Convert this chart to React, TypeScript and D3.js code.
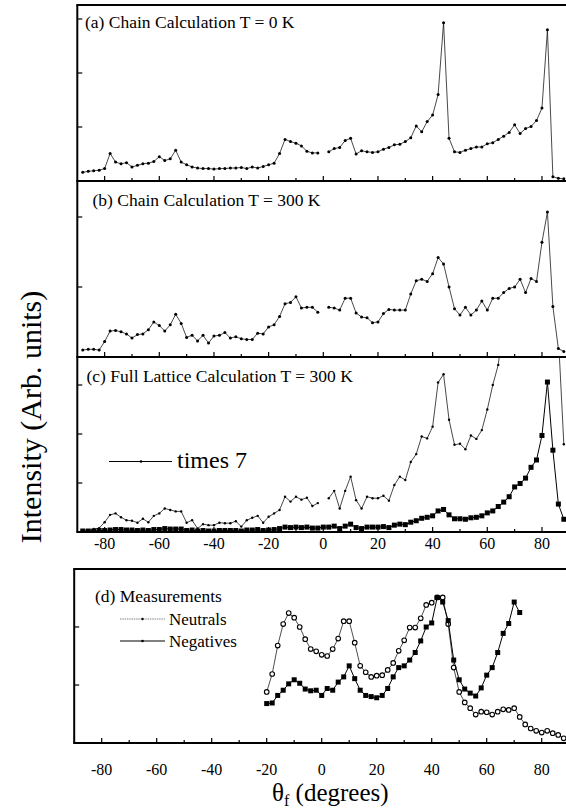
import React from "react";
import * as d3 from "d3";

// Scattering angle grid of the calculations (degrees)
const CALC_ANGLES = [
  -88, -86, -84, -82, -80, -78, -76, -74, -72, -70, -68, -66, -64, -62, -60, -58, -56, -54, -52, -50,
  -48, -46, -44, -42, -40, -38, -36, -34, -32, -30, -28, -26, -24, -22, -20, -18, -16, -14, -12, -10,
  -8, -6, -4, -2, 0, 2, 4, 6, 8, 10, 12, 14, 16, 18, 20, 22, 24, 26, 28, 30,
  32, 34, 36, 38, 40, 42, 44, 46, 48, 50, 52, 54, 56, 58, 60, 62, 64, 66, 68, 70,
  72, 74, 76, 78, 80, 82, 84, 86, 88,
];

// (a) chain calculation, T = 0 K
const CHAIN_0K = [
  0.16, 0.18, 0.19, 0.2, 0.23, 0.51, 0.35, 0.32, 0.34, 0.26, 0.29, 0.32, 0.33, 0.36, 0.45, 0.38, 0.41, 0.57, 0.35, 0.3,
  0.26, 0.24, 0.23, 0.23, 0.22, 0.23, 0.23, 0.24, 0.24, 0.25, 0.23, 0.26, 0.24, 0.27, 0.3, 0.33, 0.51, 0.77, 0.73, 0.7,
  0.65, 0.55, 0.52, 0.52, null, 0.54, 0.6, 0.62, 0.75, 0.79, 0.5, 0.56, 0.54, 0.53, 0.54, 0.59, 0.62, 0.67, 0.68, 0.73,
  0.8, 1.02, 0.91, 1.1, 1.22, 1.6, 2.93, 0.79, 0.54, 0.53, 0.57, 0.6, 0.63, 0.63, 0.69, 0.71, 0.77, 0.83, 0.9, 1.04,
  0.88, 0.97, 1.01, 1.12, 1.35, 2.8, 0.08, 0.05, 0.04,
];

// (b) chain calculation, T = 300 K
const CHAIN_300K = [
  0.1, 0.11, 0.11, 0.1, 0.22, 0.37, 0.38, 0.36, 0.33, 0.27, 0.32, 0.33, 0.39, 0.5, 0.45, 0.37, 0.46, 0.61, 0.48, 0.28,
  0.31, 0.23, 0.31, 0.2, 0.3, 0.31, 0.35, 0.27, 0.29, 0.26, 0.25, 0.25, 0.34, 0.33, 0.43, 0.46, 0.58, 0.76, 0.78, 0.86,
  0.7, 0.71, 0.71, 0.64, null, 0.71, 0.7, 0.67, 0.84, 0.84, 0.63, 0.57, 0.56, 0.49, 0.5, 0.62, 0.68, 0.67, 0.67, 0.67,
  0.9, 1.09, 1.11, 1.08, 1.19, 1.42, 1.33, 1.0, 0.69, 0.6, 0.71, 0.6, 0.67, 0.8, 0.67, 0.84, 0.84, 0.92, 0.98, 1.0,
  1.11, 0.92, 1.12, 1.08, 1.64, 2.07, 0.72, 0.12, 0.08,
];

// (c) full lattice calculation, T = 300 K
const LATTICE_300K = [
  0.02, 0.02, 0.02, 0.03, 0.03, 0.04, 0.05, 0.05, 0.04, 0.04, 0.03, 0.04, 0.03, 0.05, 0.05, 0.07, 0.06, 0.06, 0.06, 0.03,
  0.04, 0.02, 0.03, 0.02, 0.02, 0.03, 0.03, 0.03, 0.03, 0.02, 0.04, 0.04, 0.05, 0.03, 0.04, 0.05, 0.07, 0.1, 0.09, 0.1,
  0.09, 0.1, 0.08, 0.08, 0.1, 0.1, 0.12, 0.07, 0.12, 0.16, 0.09, 0.07, 0.1, 0.1, 0.1, 0.11, 0.09, 0.14, 0.16, 0.15,
  0.2, 0.23, 0.28, 0.3, 0.33, 0.43, 0.46, 0.35, 0.27, 0.27, 0.26, 0.29, 0.3, 0.33, 0.39, 0.43, 0.52, 0.61, 0.72, 0.92,
  0.99, 1.1, 1.32, 1.47, 1.97, 3.06, 1.67, 0.57, 0.26,
];

// (c) the same calculation magnified seven times
const LATTICE_300K_TIMES7 = [
  0.02, 0.02, 0.06, 0.08, 0.2, 0.35, 0.38, 0.3, 0.24, 0.23, 0.19, 0.27, 0.2, 0.33, 0.38, 0.48, 0.45, 0.42, 0.42, 0.19,
  0.24, 0.07, 0.16, 0.14, 0.14, 0.19, 0.18, 0.18, 0.22, 0.11, 0.24, 0.29, 0.33, 0.19, 0.31, 0.38, 0.45, 0.72, 0.62, 0.72,
  0.66, 0.7, 0.53, 0.59, null, 0.69, 0.84, 0.48, 0.84, 1.13, 0.65, 0.48, 0.72, 0.69, 0.69, 0.74, 0.64, 0.96, 1.13, 1.06,
  1.43, 1.59, 1.95, 1.91, 2.15, 3.05, 3.22, 2.29, 1.78, 1.8, 1.69, 1.97, 1.9, 2.08, 2.5, 3.0, 3.41, 4.3, 5.0, 6.4,
  6.9, 7.7, 9.2, 10.3, 13.8, 21.4, 11.7, 4.0, 1.79,
];

// (d) measurements
const NEUTRAL_ANGLES = [
  -20, -18, -16, -14, -12, -10, -8, -6, -4, -2, 0, 2, 4, 6, 8, 10, 12, 14, 16, 18,
  20, 22, 24, 26, 28, 30, 32, 34, 36, 38, 40, 42, 44, 46, 48, 50, 52, 54, 56, 58,
  60, 62, 64, 66, 68, 70, 72, 74, 76, 78, 80, 82, 84, 86, 88,
];
const NEUTRALS = [
  0.88, 1.19, 1.68, 2.05, 2.24, 2.16, 2.0, 1.79, 1.62, 1.58, 1.52, 1.5, 1.62, 1.8, 2.1, 2.1, 1.73, 1.33, 1.22, 1.14,
  1.16, 1.17, 1.26, 1.38, 1.59, 1.77, 1.99, 1.99, 2.15, 2.38, 2.42, 2.51, 2.51, 2.05, 1.3, 0.88, 0.7, 0.6, 0.49, 0.54,
  0.53, 0.49, 0.54, 0.58, 0.57, 0.6, 0.45, 0.32, 0.25, 0.21, 0.18, 0.21, 0.17, 0.14, 0.08,
];
const NEGATIVE_ANGLES = [
  -20, -18, -16, -14, -12, -10, -8, -6, -4, -2, 0, 2, 4, 6, 8, 10, 12, 14, 16, 18,
  20, 22, 24, 26, 28, 30, 32, 34, 36, 38, 40, 42, 44, 46, 48, 50, 52, 54, 56, 58,
  60, 62, 64, 66, 68, 70, 72,
];
const NEGATIVES = [
  0.68, 0.69, 0.82, 0.91, 1.02, 1.09, 1.03, 0.93, 0.9, 0.91, 0.82, 0.94, 0.91, 1.05, 1.14, 1.33, 1.11, 0.91, 0.82, 0.8,
  0.78, 0.82, 0.94, 1.14, 1.3, 1.33, 1.43, 1.56, 1.76, 2.0, 2.07, 2.51, 2.43, 2.11, 1.43, 1.09, 0.93, 0.86, 0.81, 0.95,
  1.17, 1.3, 1.56, 1.89, 2.06, 2.43, 2.25,
];

const MAJOR_TICKS = [-80, -60, -40, -20, 0, 20, 40, 60, 80];
const MINOR_TICKS = [-70, -50, -30, -10, 10, 30, 50, 70];
const TICK_LABELS = ["-80", "-60", "-40", "-20", "0", "20", "40", "60", "80"];
const Y_TICKS = [1, 2, 3];

const FONT = "Liberation Serif, Times New Roman, Times, DejaVu Serif, serif";

type Pt = [number, number | null];

const zip = (xs: number[], ys: (number | null)[]): Pt[] => xs.map((v, i) => [v, ys[i]]);

interface PanelProps {
  id: string;
  x: d3.ScaleLinear<number, number>;
  top: number;
  bottom: number;
  yMax: number;
  drawTop?: boolean;
  children: (y: d3.ScaleLinear<number, number>) => React.ReactNode;
}

function Panel({ id, x, top, bottom, yMax, drawTop, children }: PanelProps) {
  const y = d3.scaleLinear().domain([0, yMax]).range([bottom, top]);
  const [x0, x1] = x.range();
  return (
    <g>
      <defs>
        <clipPath id={id}>
          <rect x={x0} y={top} width={x1 - x0} height={bottom - top} />
        </clipPath>
      </defs>
      <g clipPath={`url(#${id})`}>{children(y)}</g>
      {/* frame */}
      <line x1={x0} x2={x0} y1={top} y2={bottom} stroke="#000" strokeWidth={2} />
      <line x1={x0 - 1} x2={x1} y1={bottom} y2={bottom} stroke="#000" strokeWidth={2} />
      <line x1={x1} x2={x1} y1={top} y2={bottom} stroke="#000" strokeWidth={2} />
      {drawTop && <line x1={x0 - 1} x2={x1} y1={top} y2={top} stroke="#000" strokeWidth={2} />}
      {/* inward x ticks */}
      {MAJOR_TICKS.map((t) => (
        <line key={`M${t}`} x1={x(t)} x2={x(t)} y1={bottom} y2={bottom - 5} stroke="#000" strokeWidth={1.2} />
      ))}
      {MINOR_TICKS.map((t) => (
        <line key={`m${t}`} x1={x(t)} x2={x(t)} y1={bottom} y2={bottom - 3} stroke="#000" strokeWidth={1.2} />
      ))}
      {/* inward y ticks */}
      {Y_TICKS.filter((t) => y(t) > top + 1).map((t) => (
        <line key={`y${t}`} x1={x0} x2={x0 + 5} y1={y(t)} y2={y(t)} stroke="#000" strokeWidth={1.2} />
      ))}
    </g>
  );
}

function DotLine({
  pts, x, y, r, width,
}: { pts: Pt[]; x: d3.ScaleLinear<number, number>; y: d3.ScaleLinear<number, number>; r: number; width: number }) {
  const line = d3.line<Pt>().defined((d) => d[1] != null).x((d) => x(d[0])).y((d) => y(d[1] as number));
  return (
    <g>
      <path d={line(pts) ?? ""} fill="none" stroke="#1a1a1a" strokeWidth={width} />
      {pts.filter((d) => d[1] != null).map((d) => (
        <circle key={d[0]} cx={x(d[0])} cy={y(d[1] as number)} r={r} fill="#000" />
      ))}
    </g>
  );
}

function SquareLine({
  pts, x, y, size, width,
}: { pts: Pt[]; x: d3.ScaleLinear<number, number>; y: d3.ScaleLinear<number, number>; size: number; width: number }) {
  const line = d3.line<Pt>().defined((d) => d[1] != null).x((d) => x(d[0])).y((d) => y(d[1] as number));
  return (
    <g>
      <path d={line(pts) ?? ""} fill="none" stroke="#000" strokeWidth={width} />
      {pts.filter((d) => d[1] != null).map((d) => (
        <rect key={d[0]} x={x(d[0]) - size / 2} y={y(d[1] as number) - size / 2} width={size} height={size} fill="#000" />
      ))}
    </g>
  );
}

function CircleLine({
  pts, x, y, r, width,
}: { pts: Pt[]; x: d3.ScaleLinear<number, number>; y: d3.ScaleLinear<number, number>; r: number; width: number }) {
  const line = d3.line<Pt>().x((d) => x(d[0])).y((d) => y(d[1] as number));
  return (
    <g>
      <path d={line(pts) ?? ""} fill="none" stroke="#222" strokeWidth={width} />
      {pts.map((d) => (
        <circle key={d[0]} cx={x(d[0])} cy={y(d[1] as number)} r={r} fill="#fff" stroke="#000" strokeWidth={1.1} />
      ))}
    </g>
  );
}

export default function App() {
  const xUpper = d3.scaleLinear().domain([-90, 90]).range([77.3, 569.3]);
  const xLower = d3.scaleLinear().domain([-90, 90]).range([74.2, 569.2]);

  return (
    <svg
      width={566}
      height={810}
      viewBox="0 0 566 810"
      fontFamily={FONT}
      style={{ position: "absolute", left: 0, top: 0, background: "#fff" }}
    >
      <rect x={0} y={0} width={566} height={810} fill="#fff" />

      {/* (a) */}
      <Panel id="clipA" x={xUpper} top={5} bottom={181} yMax={176 / 54} drawTop>
        {(y) => <DotLine pts={zip(CALC_ANGLES, CHAIN_0K)} x={xUpper} y={y} r={1.5} width={0.8} />}
      </Panel>
      <text x={85} y={28} fontFamily={FONT} fontSize={17.5}>(a) Chain Calculation T = 0 K</text>

      {/* (b) */}
      <Panel id="clipB" x={xUpper} top={181} bottom={357} yMax={176 / 70}>
        {(y) => <DotLine pts={zip(CALC_ANGLES, CHAIN_300K)} x={xUpper} y={y} r={1.5} width={0.8} />}
      </Panel>
      <text x={92.5} y={206} fontFamily={FONT} fontSize={17.5}>(b) Chain Calculation T = 300 K</text>

      {/* (c) */}
      <Panel id="clipC" x={xUpper} top={357} bottom={532} yMax={175 / 49}>
        {(y) => (
          <g>
            <DotLine pts={zip(CALC_ANGLES, LATTICE_300K_TIMES7)} x={xUpper} y={y} r={1.2} width={0.8} />
            <SquareLine pts={zip(CALC_ANGLES, LATTICE_300K)} x={xUpper} y={y} size={5} width={1} />
          </g>
        )}
      </Panel>
      <text x={86.5} y={382} fontFamily={FONT} fontSize={17.5}>(c) Full Lattice Calculation T = 300 K</text>
      <line x1={109} x2={172} y1={461.5} y2={461.5} stroke="#000" strokeWidth={1} />
      <circle cx={141} cy={461.5} r={1.3} fill="#000" />
      <text x={177} y={468} fontFamily={FONT} fontSize={24}>times 7</text>
      {MAJOR_TICKS.map((t, i) => (
        <text key={`lc${t}`} x={xUpper(t)} y={549} textAnchor="middle" fontFamily={FONT} fontSize={16}>{TICK_LABELS[i]}</text>
      ))}

      {/* (d) */}
      <Panel id="clipD" x={xLower} top={569} bottom={743} yMax={3} drawTop>
        {(y) => (
          <g>
            <CircleLine pts={zip(NEUTRAL_ANGLES, NEUTRALS)} x={xLower} y={y} r={2.3} width={0.8} />
            <SquareLine pts={zip(NEGATIVE_ANGLES, NEGATIVES)} x={xLower} y={y} size={5} width={1} />
          </g>
        )}
      </Panel>
      <text x={95} y={602} fontFamily={FONT} fontSize={17.5}>(d) Measurements</text>
      <line x1={120} x2={165} y1={619} y2={619} stroke="#666" strokeWidth={0.8} strokeDasharray="1.5 0.8" />
      <circle cx={142.5} cy={619} r={1.2} fill="#000" />
      <text x={169} y={625} fontFamily={FONT} fontSize={17}>Neutrals</text>
      <line x1={120} x2={165} y1={641} y2={641} stroke="#000" strokeWidth={1} />
      <circle cx={142.5} cy={641} r={1.3} fill="#000" />
      <text x={169} y={647} fontFamily={FONT} fontSize={17}>Negatives</text>
      {MAJOR_TICKS.map((t, i) => (
        <text key={`ld${t}`} x={xLower(t)} y={775} textAnchor="middle" fontFamily={FONT} fontSize={16}>{TICK_LABELS[i]}</text>
      ))}

      {/* axis titles */}
      <text transform="translate(41,417) rotate(-90)" textAnchor="middle" fontFamily={FONT} fontSize={30}>
        Intensity (Arb. units)
      </text>
      <text x={272} y={801} fontFamily={FONT} fontSize={25}>
        θ<tspan dy={4.5} fontSize={16}>f</tspan><tspan dy={-4.5}> (degrees)</tspan>
      </text>
    </svg>
  );
}
